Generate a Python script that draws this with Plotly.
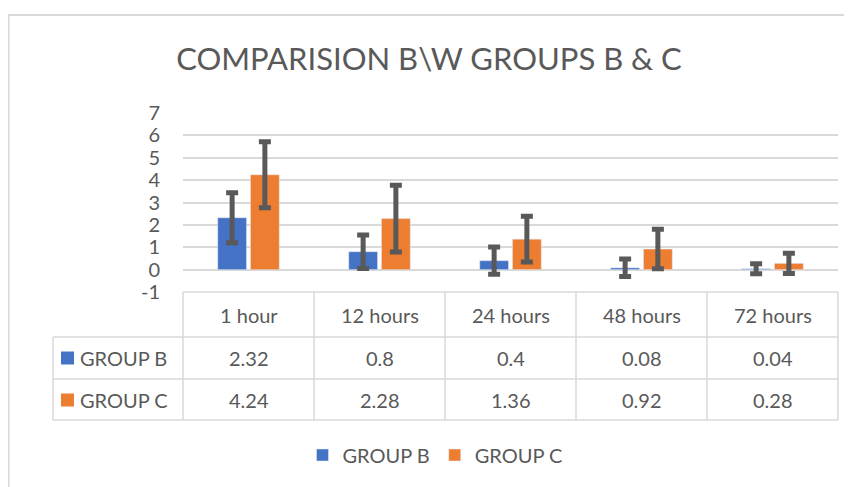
import plotly.graph_objects as go

categories = ["1 hour", "12 hours", "24 hours", "48 hours", "72 hours"]
group_b = [2.32, 0.8, 0.4, 0.08, 0.04]
group_c = [4.24, 2.28, 1.36, 0.92, 0.28]
err_b = [1.12, 0.75, 0.61, 0.39, 0.22]
err_c = [1.47, 1.49, 1.02, 0.88, 0.45]
y_ticks = [-1, 0, 1, 2, 3, 4, 5, 6, 7]
y_tick_labels = ["-1", "0", "1", "2", "3", "4", "5", "6", "7"]

BLUE = "#4472C4"
ORANGE = "#ED7D31"
GRID = "#D9D9D9"
TEXT = "#595959"
FONT = "Lato"

OFF = 8  # page body margin of the exported html
W, H = 852 - OFF, 487 - OFF
# plot area box in page pixels
PL, PR, PT, PB = 183, 838, 113, 292
L, R, T, B = PL - OFF, PR - OFF, PT - OFF, PB - OFF


def px(X):
    """page pixel x -> paper"""
    return (X - PL) / (PR - PL)


def py(Y):
    """page pixel y -> paper"""
    return (PB - Y) / (PB - PT)


fig = go.Figure()
fig.add_trace(go.Bar(
    name="GROUP B", x=categories, y=group_b, marker_color=BLUE,
    error_y=dict(type="data", array=err_b, visible=True, color=TEXT,
                 thickness=5, width=6),
))
fig.add_trace(go.Bar(
    name="GROUP C", x=categories, y=group_c, marker_color=ORANGE,
    error_y=dict(type="data", array=err_c, visible=True, color=TEXT,
                 thickness=5, width=6),
))

shapes = []
# chart border
shapes.append(dict(type="rect", xref="paper", yref="paper",
                   x0=px(OFF + 0.5), x1=px(870), y0=py(15), y1=py(520),
                   line=dict(color=GRID, width=2), fillcolor="rgba(0,0,0,0)",
                   layer="below"))

# data table grid
col_edges = [PL + i * (PR - PL) / len(categories) for i in range(len(categories) + 1)]
row_lines = [292, 337, 379, 420]
table_left = 53
for i, Y in enumerate(row_lines):
    x0 = PL if i == 0 else table_left
    shapes.append(dict(type="line", xref="paper", yref="paper",
                       x0=px(x0), x1=px(PR), y0=py(Y), y1=py(Y),
                       line=dict(color=GRID, width=1.5)))
for X in col_edges:
    shapes.append(dict(type="line", xref="paper", yref="paper",
                       x0=px(X), x1=px(X), y0=py(292), y1=py(420),
                       line=dict(color=GRID, width=1.5)))
shapes.append(dict(type="line", xref="paper", yref="paper",
                   x0=px(table_left), x1=px(table_left), y0=py(337), y1=py(420),
                   line=dict(color=GRID, width=1.5)))

annotations = []
row_centers = [358, 400]
series = [("GROUP B", group_b, BLUE), ("GROUP C", group_c, ORANGE)]
tfont = dict(family=FONT, size=20, color=TEXT)
for i, cat in enumerate(categories):
    cx = (col_edges[i] + col_edges[i + 1]) / 2
    annotations.append(dict(xref="paper", yref="paper", x=px(cx), y=py(315),
                            xanchor="center", yanchor="middle",
                            text=cat, showarrow=False, font=tfont))
    for (name, vals, col), yc in zip(series, row_centers):
        annotations.append(dict(xref="paper", yref="paper", x=px(cx), y=py(yc),
                                xanchor="center", yanchor="middle",
                                text=str(vals[i]), showarrow=False, font=tfont))
for (name, vals, col), yc in zip(series, row_centers):
    shapes.append(dict(type="rect", xref="paper", yref="paper",
                       x0=px(61), x1=px(74), y0=py(yc - 6.5), y1=py(yc + 6.5),
                       line=dict(width=0), fillcolor=col))
    annotations.append(dict(xref="paper", yref="paper", x=px(78), y=py(yc),
                            xanchor="left", yanchor="middle",
                            text=name, showarrow=False, font=tfont))

fig.update_layout(
    width=W, height=H, autosize=False,
    margin=dict(l=L, r=W - R, t=T, b=H - B, pad=0),
    paper_bgcolor="white", plot_bgcolor="white",
    title=dict(text="COMPARISION B\\W GROUPS B & C",
               x=(429 - OFF) / W, xanchor="center",
               y=1 - (59 - OFF) / H, yanchor="middle",
               font=dict(family=FONT, size=31, color=TEXT)),
    barmode="group", bargap=0.5, bargroupgap=0.12,
    showlegend=True,
    legend=dict(orientation="h", xref="container", yref="container",
                x=(435 - OFF) / W, xanchor="center",
                y=1 - (455 - OFF) / H, yanchor="middle",
                font=dict(family=FONT, size=20, color=TEXT),
                bgcolor="rgba(0,0,0,0)"),
    shapes=shapes, annotations=annotations,
    font=dict(family=FONT, color=TEXT),
)
fig.update_xaxes(range=[-0.5, 4.5], showticklabels=False, showgrid=False,
                 zeroline=False, showline=False, ticks="")
fig.update_yaxes(range=[-1, 7], tickvals=y_ticks, ticktext=y_tick_labels,
                 showgrid=True, gridcolor=GRID, gridwidth=1.5,
                 zeroline=False, showline=False, ticks="",
                 ticklabelstandoff=22,
                 tickfont=dict(family=FONT, size=20, color=TEXT))

fig.write_html("out.html")
